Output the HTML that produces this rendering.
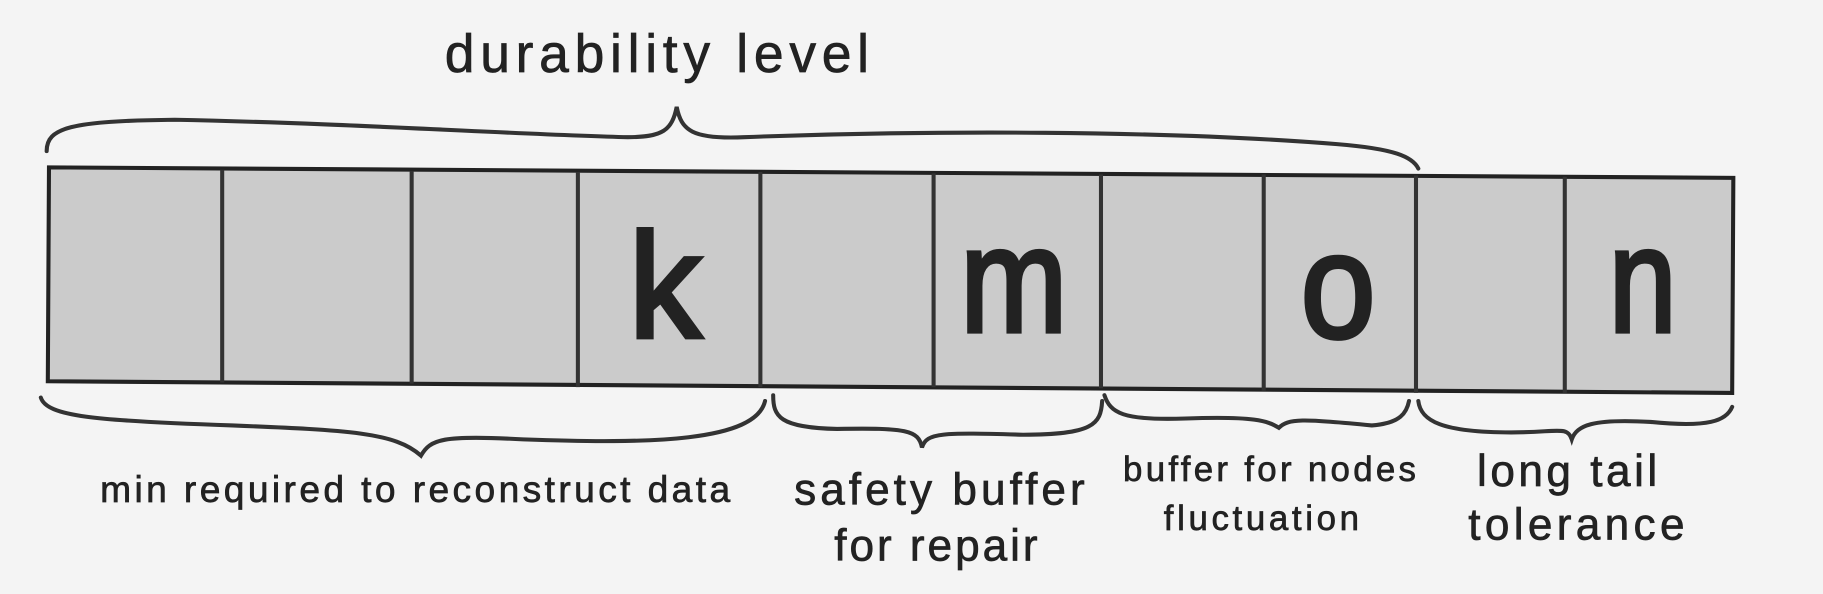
<!DOCTYPE html>
<html><head><style>html,body{margin:0;padding:0;background:#f4f4f4;}svg{display:block}</style></head>
<body>
<svg width="1823" height="594" viewBox="0 0 1568 511" xmlns="http://www.w3.org/2000/svg" font-family="Liberation Sans, sans-serif" fill="#222">
<rect x="0" y="0" width="1568" height="511" fill="#f4f4f4"/>
<polygon points="42,144 1491,153 1490,338 41,328" fill="#cbcbcb" stroke="#222" stroke-width="3.5"/>
<g stroke="#333" stroke-width="3.5">
<line x1="191" y1="146" x2="191" y2="329"/>
<line x1="354" y1="147" x2="354" y2="330"/>
<line x1="497" y1="148" x2="497" y2="333"/>
<line x1="654" y1="148" x2="654" y2="333"/>
<line x1="803" y1="149" x2="803" y2="333"/>
<line x1="947" y1="150" x2="947" y2="334"/>
<line x1="1087" y1="150" x2="1087" y2="336"/>
<line x1="1218" y1="151" x2="1218" y2="338"/>
<line x1="1346" y1="152" x2="1346" y2="338"/>
</g>
<g font-size="128" text-anchor="middle" stroke="#222" stroke-width="4">
<text x="572" y="290" textLength="62" lengthAdjust="spacingAndGlyphs">k</text>
<text x="872" y="285" textLength="92" lengthAdjust="spacingAndGlyphs">m</text>
<text x="1151" y="290" textLength="64" lengthAdjust="spacingAndGlyphs">o</text>
<text x="1413" y="285" textLength="58" lengthAdjust="spacingAndGlyphs">n</text>
</g>
<g fill="none" stroke="#333" stroke-width="3.5" stroke-linecap="round">
<path d="M40,130 C40,110 60,104 150,103 C300,106 450,116 540,118 C570,118 578,112 582,92 C586,112 595,120 640,118 C800,112 1000,112 1150,124 C1200,128 1215,135 1220,145"/>
<path d="M35,342 C40,358 80,362 200,366 C300,370 340,372 362,392 C370,378 380,374 450,378 C560,382 650,380 658,345"/>
<path d="M665,340 C665,358 670,368 720,369 C780,368 790,370 793,385 C797,372 810,372 880,374 C940,374 947,365 948,345"/>
<path d="M950,340 C955,355 965,362 1020,360 C1080,358 1090,362 1100,368 C1108,360 1120,360 1180,366 C1205,364 1210,355 1212,345"/>
<path d="M1220,345 C1222,362 1240,372 1300,372 C1340,372 1348,366 1352,378 C1356,366 1370,360 1420,363 C1470,368 1485,362 1490,350"/>
</g>
<g stroke="#222" stroke-width="0.6">
<text x="565" y="62" font-size="46" text-anchor="middle" textLength="365">durability level</text>
<text x="86" y="432" font-size="32" textLength="542">min required to reconstruct data</text>
<text x="808" y="434" font-size="38" text-anchor="middle" textLength="250">safety buffer</text>
<text x="805" y="482" font-size="38" text-anchor="middle" textLength="175">for repair</text>
<text x="1092" y="414" font-size="30" text-anchor="middle" textLength="252">buffer for nodes</text>
<text x="1085" y="456" font-size="30" text-anchor="middle" textLength="168">fluctuation</text>
<text x="1348" y="418" font-size="38" text-anchor="middle" textLength="155">long tail</text>
<text x="1356" y="464" font-size="38" text-anchor="middle" textLength="186">tolerance</text>
</g>
</svg>
</body></html>
